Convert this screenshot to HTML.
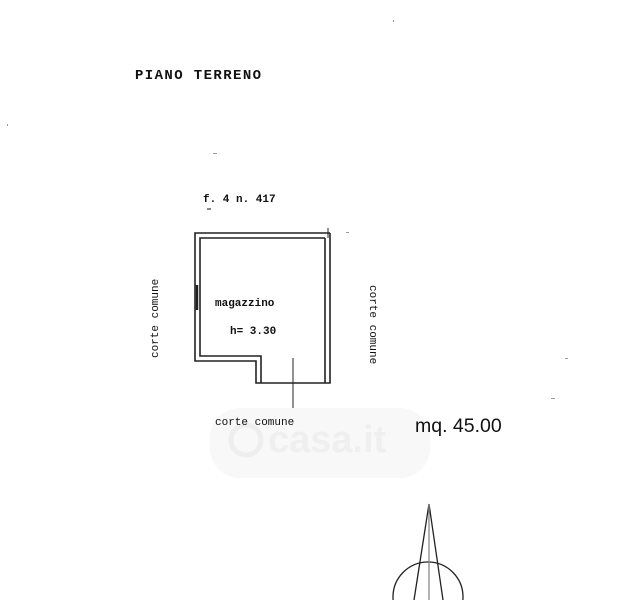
<!DOCTYPE html>
<html><head><meta charset="utf-8"><style>
html,body{margin:0;padding:0;background:#fff;width:637px;height:600px;overflow:hidden}
svg{display:block}
text{font-family:"Liberation Mono",monospace;fill:#111}
.sans{font-family:"Liberation Sans",sans-serif}
</style></head><body>
<svg width="637" height="600" viewBox="0 0 637 600" xmlns="http://www.w3.org/2000/svg">
<defs><clipPath id="c"><rect x="0" y="0" width="637" height="600"/></clipPath></defs>
<g clip-path="url(#c)">
<rect x="210" y="408" width="220" height="70" rx="30" fill="#f8f8f8"/>
<text class="sans" x="268" y="452" font-size="38" font-weight="bold" style="fill:#efefef">casa.it</text>
<circle cx="246" cy="440" r="15" fill="none" stroke="#eeeeee" stroke-width="5"/>
<text x="135" y="79" font-size="14" font-weight="bold" letter-spacing="1.4">PIANO TERRENO</text>
<text x="203" y="202" font-size="11" font-weight="bold">f. 4 n. 417</text>
<line x1="207" y1="209" x2="211" y2="209" stroke="#111" stroke-width="1"/>
<g fill="none" stroke="#222" stroke-width="1.6">
<polyline points="330,233 195,233 195,361 256,361 256,383 330,383 330,233"/>
<polyline points="325,238 200,238 200,356 261,356 261,383"/>
<line x1="325" y1="238" x2="325" y2="383"/>
<line x1="328" y1="228" x2="328" y2="238" stroke-width="1"/>
<line x1="293" y1="358" x2="293" y2="408" stroke-width="1"/>
<line x1="197" y1="285" x2="197" y2="310" stroke-width="2.5"/>
</g>
<text x="215" y="306" font-size="11" font-weight="bold">magazzino</text>
<text x="230" y="334" font-size="11" font-weight="bold">h= 3.30</text>
<text x="215" y="425" font-size="11">corte comune</text>
<text transform="translate(158,358) rotate(-90)" font-size="11">corte comune</text>
<text transform="translate(370,285) rotate(90)" font-size="11">corte comune</text>
<text class="sans" x="415" y="432" font-size="19.5">mq. 45.00</text>
<g fill="none" stroke="#222" stroke-width="1.3">
<circle cx="428" cy="597" r="35"/>
<line x1="429" y1="504" x2="414" y2="600"/>
<line x1="429" y1="504" x2="443" y2="600"/>
<line x1="429" y1="504" x2="429" y2="600" stroke="#888"/>
</g>
<g fill="#999"><rect x="393" y="20" width="1" height="2"/><rect x="213" y="153" width="4" height="1"/><rect x="346" y="232" width="3" height="1"/><rect x="565" y="358" width="3" height="1"/><rect x="551" y="398" width="4" height="1"/><rect x="7" y="124" width="1" height="2"/></g>
</g>
</svg>
</body></html>
